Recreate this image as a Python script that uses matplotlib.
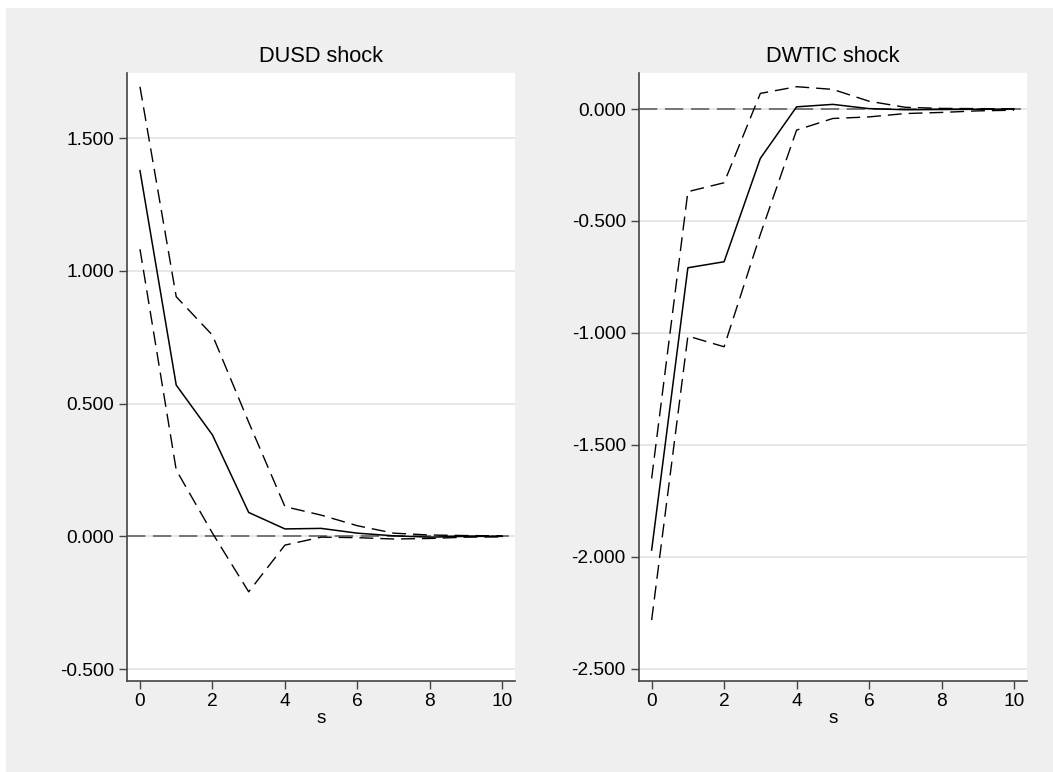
import matplotlib
matplotlib.use("Agg")
import matplotlib.pyplot as plt
from matplotlib.patches import Rectangle
from matplotlib.ticker import FormatStrFormatter

plt.rcParams['font.family'] = ['Liberation Sans', 'DejaVu Sans']

steps = list(range(11))

# DUSD shock
dusd_irf = [1.378, 0.570, 0.382, 0.090, 0.028, 0.030, 0.012, 0.002, -0.003, 0.000, 0.000]
dusd_upper = [1.694, 0.903, 0.758, 0.430, 0.112, 0.080, 0.040, 0.012, 0.005, 0.003, 0.002]
dusd_lower = [1.082, 0.250, 0.012, -0.209, -0.033, -0.003, -0.005, -0.010, -0.008, -0.003, -0.002]

# DWTIC shock
dwtic_irf = [-1.970, -0.709, -0.682, -0.220, 0.010, 0.021, 0.002, -0.003, -0.002, -0.001, 0.000]
dwtic_upper = [-1.650, -0.369, -0.329, 0.070, 0.100, 0.088, 0.035, 0.008, 0.003, 0.002, 0.001]
dwtic_lower = [-2.283, -1.014, -1.062, -0.560, -0.094, -0.042, -0.035, -0.020, -0.015, -0.008, -0.005]

titles = ["DUSD shock", "DWTIC shock"]
yticks_left = [-0.5, 0.0, 0.5, 1.0, 1.5]
yticks_right = [-2.5, -2.0, -1.5, -1.0, -0.5, 0.0]
xticks = [0, 2, 4, 6, 8, 10]

bg = '#efefef'
fig = plt.figure(figsize=(10.53, 7.72), dpi=100, facecolor='white')
fig.patches.append(Rectangle((6 / 1053, 0), 1 - 6 / 1053, 1 - 8 / 772,
                             transform=fig.transFigure, facecolor=bg,
                             edgecolor='none', zorder=-10))

ax1 = fig.add_axes([0.1209, 0.1179, 0.3682, 0.7872])
ax2 = fig.add_axes([0.6068, 0.1179, 0.3682, 0.7872])

panels = [
    (ax1, dusd_irf, dusd_upper, dusd_lower, yticks_left, (-0.545, 1.745)),
    (ax2, dwtic_irf, dwtic_upper, dwtic_lower, yticks_right, (-2.555, 0.16)),
]

for (ax, irf, up, lo, yt, ylim), title in zip(panels, titles):
    ax.set_facecolor('white')
    for y in yt:
        ax.axhline(y, color='#e3e3e3', lw=1.2, zorder=0)
    ax.axhline(0, color='#555555', lw=1.1, linestyle=(0, (12, 5)), zorder=1)
    ax.plot(steps, up, color='black', lw=1.0, linestyle=(0, (10, 5)), zorder=2)
    ax.plot(steps, lo, color='black', lw=1.0, linestyle=(0, (10, 5)), zorder=2)
    ax.plot(steps, irf, color='black', lw=1.1, zorder=3)
    ax.set_xlim(-0.35, 10.35)
    ax.set_ylim(*ylim)
    ax.set_xticks(xticks)
    ax.set_yticks(yt)
    ax.yaxis.set_major_formatter(FormatStrFormatter('%.3f'))
    for s in ['top', 'right']:
        ax.spines[s].set_visible(False)
    for s in ['left', 'bottom']:
        ax.spines[s].set_color('#444444')
        ax.spines[s].set_linewidth(1.2)
    ax.tick_params(axis='both', direction='out', length=6, width=1.0,
                   color='#444444', labelsize=13.8, pad=2.5)
    ax.tick_params(axis='y', pad=3.5)
    ax.set_title(title, fontsize=15.7, pad=8)
    ax.set_xlabel('s', fontsize=13.8)
    ax.xaxis.set_label_coords(0.5, -0.061)
    ax.xaxis.label.set_verticalalignment('center')

fig.savefig('out.png', dpi=100, facecolor=fig.get_facecolor())
